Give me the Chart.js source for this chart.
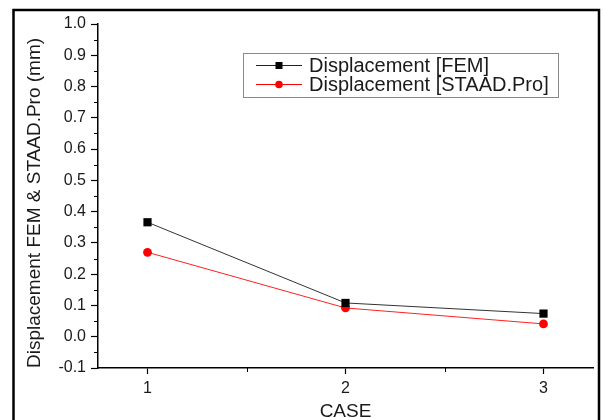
<!DOCTYPE html>
<html>
<head>
<meta charset="utf-8">
<script src="https://cdn.jsdelivr.net/npm/chart.js@4"></script>
<style>
  html, body { margin: 0; padding: 0; background: #fff; }
  #wrap { width: 604px; height: 420px; }
</style>
</head>
<body>
<div id="wrap"><canvas id="chart" width="604" height="420"></canvas></div>
<script>
// values
const cases = [1, 2, 3];
const femValues = [0.366, 0.108, 0.074];
const staadValues = [0.27, 0.092, 0.041];
const yTicks = [-0.1, 0, 0.1, 0.2, 0.3, 0.4, 0.5, 0.6, 0.7, 0.8, 0.9, 1.0];
const yMinorTicks = [-0.05, 0.05, 0.15, 0.25, 0.35, 0.45, 0.55, 0.65, 0.75, 0.85, 0.95];
const xMinorTicks = [1.5, 2.5];
const seriesNames = ['Displacement [FEM]', 'Displacement [STAAD.Pro]'];

const FONT = '"Liberation Sans", Arial, sans-serif';

const toPoints = (vals) => cases.map((c, i) => ({ x: c, y: vals[i] }));

// page frame + legend box + short minor ticks
const extras = {
    id: 'extras',
    afterDraw(chart) {
        const ctx = chart.ctx;
        const xs = chart.scales.x, ys = chart.scales.y;
        ctx.save();

        // minor ticks
        ctx.strokeStyle = '#000';
        ctx.lineWidth = 1;
        yMinorTicks.forEach(v => {
            const py = Math.round(ys.getPixelForValue(v)) + 0.5;
            ctx.beginPath();
            ctx.moveTo(xs.left - 4, py);
            ctx.lineTo(xs.left, py);
            ctx.stroke();
        });
        xMinorTicks.forEach(v => {
            const px = Math.round(xs.getPixelForValue(v)) + 0.5;
            ctx.beginPath();
            ctx.moveTo(px, ys.bottom);
            ctx.lineTo(px, ys.bottom + 4);
            ctx.stroke();
        });

        // outer frame (no bottom edge visible)
        ctx.lineWidth = 2.5;
        ctx.strokeStyle = '#000';
        ctx.beginPath();
        ctx.moveTo(13.5, 420);
        ctx.lineTo(13.5, 10);
        ctx.lineTo(599, 10);
        ctx.lineTo(599, 420);
        ctx.stroke();

        // legend
        ctx.lineWidth = 1;
        ctx.strokeStyle = '#8a8a8a';
        ctx.strokeRect(243.5, 53.5, 315, 44);
        const rows = [
            { y: 65, line: '#222', fill: '#000', shape: 'rect' },
            { y: 84, line: '#ff0000', fill: '#ff0000', shape: 'circle' }
        ];
        rows.forEach((r, i) => {
            ctx.strokeStyle = r.line;
            ctx.beginPath();
            ctx.moveTo(256, r.y + 0.5);
            ctx.lineTo(302, r.y + 0.5);
            ctx.stroke();
            ctx.fillStyle = r.fill;
            if (r.shape === 'rect') {
                ctx.fillRect(275.5, r.y - 3, 7, 7);
            } else {
                ctx.beginPath();
                ctx.arc(279, r.y + 0.5, 3.8, 0, Math.PI * 2);
                ctx.fill();
            }
            ctx.fillStyle = '#1a1a1a';
            ctx.font = '20px ' + FONT;
            ctx.textBaseline = 'middle';
            ctx.fillText(seriesNames[i], 309, r.y + 1);
        });
        ctx.restore();
    }
};

new Chart(document.getElementById('chart'), {
    type: 'line',
    data: {
        datasets: [
            {
                label: seriesNames[0],
                data: toPoints(femValues),
                borderColor: '#333',
                borderWidth: 1,
                backgroundColor: '#000',
                pointStyle: 'rect',
                pointRadius: 5.8,
                pointBorderWidth: 0,
                pointBackgroundColor: '#000'
            },
            {
                label: seriesNames[1],
                data: toPoints(staadValues),
                borderColor: '#ff2020',
                borderWidth: 1,
                backgroundColor: '#ff0000',
                pointStyle: 'circle',
                pointRadius: 4.4,
                pointBorderWidth: 0,
                pointBackgroundColor: '#ff0000'
            }
        ]
    },
    options: {
        responsive: false,
        animation: false,
        layout: { padding: { top: 24, right: 11, bottom: 0, left: 23 } },
        plugins: {
            legend: { display: false },
            tooltip: { enabled: false }
        },
        scales: {
            x: {
                type: 'linear',
                min: 0.75,
                max: 3.25,
                afterBuildTicks: (s) => { s.ticks = cases.map(v => ({ value: v })); },
                afterFit: (s) => { s.height = 52; },
                grid: { drawOnChartArea: false, color: '#000', tickLength: 6, tickWidth: 1.2 },
                border: { color: '#000', width: 1.5 },
                ticks: {
                    color: '#1a1a1a',
                    padding: 5,
                    maxRotation: 0,
                    font: { family: FONT, size: 16 },
                    callback: (v) => String(v)
                },
                title: {
                    display: true,
                    text: 'CASE',
                    color: '#1a1a1a',
                    padding: 0,
                    font: { family: FONT, size: 19, lineHeight: 0.85 }
                }
            },
            y: {
                type: 'linear',
                min: -0.1,
                max: 1.0,
                afterBuildTicks: (s) => { s.ticks = yTicks.map(v => ({ value: v })); },
                afterFit: (s) => { s.width = 75; },
                grid: { drawOnChartArea: false, color: '#000', tickLength: 7, tickWidth: 1.2 },
                border: { color: '#000', width: 1.5 },
                ticks: {
                    color: '#1a1a1a',
                    padding: 5,
                    font: { family: FONT, size: 16 },
                    callback: (v) => Number(v).toFixed(1)
                },
                title: {
                    display: true,
                    text: 'Displacement FEM & STAAD.Pro (mm)',
                    align: 'start',
                    color: '#1a1a1a',
                    padding: 0,
                    font: { family: FONT, size: 19 }
                }
            }
        }
    },
    plugins: [extras]
});
</script>
</body>
</html>
